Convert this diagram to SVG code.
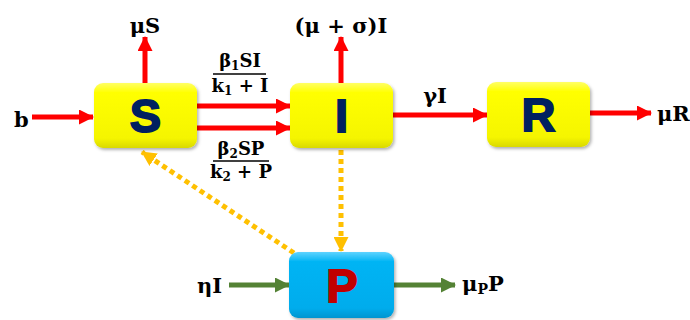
<svg xmlns="http://www.w3.org/2000/svg" width="690" height="320" viewBox="0 0 690 320">
<style>
.lbl{font-family:"DejaVu Serif","Liberation Serif",serif;font-weight:bold;fill:#000;}
.big{font-size:21px;}
.frac{font-size:18px;}
.sub{font-size:12px;}
.subb{font-size:14px;}
.let{font-family:"Liberation Sans",Arial,sans-serif;font-weight:bold;font-size:47px;text-anchor:middle;stroke-width:1.8;}
.red{stroke:#ff0000;stroke-width:5;fill:none;}
.grn{stroke:#548235;stroke-width:5;fill:none;}
.dot{stroke:#ffc000;stroke-width:5;fill:none;stroke-dasharray:5 4;}
</style>
<defs>
<linearGradient id="gy" x1="0" y1="0" x2="0" y2="1">
<stop offset="0" stop-color="#ffff66"/>
<stop offset="0.15" stop-color="#ffff00"/>
<stop offset="0.85" stop-color="#f5f500"/>
<stop offset="1" stop-color="#d9d900"/>
</linearGradient>
<linearGradient id="gb" x1="0" y1="0" x2="0" y2="1">
<stop offset="0" stop-color="#5fd3ff"/>
<stop offset="0.15" stop-color="#00b4f4"/>
<stop offset="0.85" stop-color="#00acec"/>
<stop offset="1" stop-color="#0095d0"/>
</linearGradient>
<filter id="sh" x="-10%" y="-10%" width="125%" height="130%">
<feDropShadow dx="1.5" dy="2" stdDeviation="1.5" flood-color="#000" flood-opacity="0.3"/>
</filter>
<marker id="ar" markerUnits="userSpaceOnUse" markerWidth="15" markerHeight="15" refX="14" refY="7.5" orient="auto"><path d="M0,0 L15,7.5 L0,15 z" fill="#ff0000"/></marker>
<marker id="ag" markerUnits="userSpaceOnUse" markerWidth="15" markerHeight="15" refX="14" refY="7.5" orient="auto"><path d="M0,0 L15,7.5 L0,15 z" fill="#548235"/></marker>
<marker id="ao" markerUnits="userSpaceOnUse" markerWidth="15" markerHeight="15" refX="14" refY="7.5" orient="auto"><path d="M0,0 L15,7.5 L0,15 z" fill="#ffc000"/></marker>
</defs>

<g id="connectors">
<line class="red" x1="32" y1="117" x2="93" y2="117" marker-end="url(#ar)"/>
<line class="red" x1="145" y1="83" x2="145" y2="37" marker-end="url(#ar)"/>
<line class="red" x1="197" y1="106" x2="290" y2="106" marker-end="url(#ar)"/>
<line class="red" x1="197" y1="128" x2="290" y2="128" marker-end="url(#ar)"/>
<line class="red" x1="341" y1="83" x2="341" y2="37" marker-end="url(#ar)"/>
<line class="red" x1="393" y1="115" x2="487" y2="115" marker-end="url(#ar)"/>
<line class="red" x1="590" y1="113" x2="651" y2="113" marker-end="url(#ar)"/>
<line class="dot" x1="341" y1="150" x2="341" y2="251" marker-end="url(#ao)"/>
<line class="dot" x1="294" y1="253" x2="142" y2="152" marker-end="url(#ao)"/>
<line class="grn" x1="229" y1="285" x2="289" y2="285" marker-end="url(#ag)"/>
<line class="grn" x1="394" y1="285" x2="455" y2="285" marker-end="url(#ag)"/>
</g>

<g id="labels">
<text class="lbl big" x="14" y="127">b</text>
<text class="lbl big" x="145" y="33" text-anchor="middle">μS</text>
<text class="lbl big" x="341" y="33" text-anchor="middle">(μ + σ)I</text>
<text class="lbl frac" x="240" y="67" text-anchor="middle">β<tspan class="sub" dy="3">1</tspan><tspan dy="-3">SI</tspan></text>
<line x1="213" y1="74" x2="266" y2="74" stroke="#000" stroke-width="1.5"/>
<text class="lbl frac" x="240" y="92" text-anchor="middle">k<tspan class="sub" dy="3">1</tspan><tspan dy="-3"> + I</tspan></text>
<text class="lbl frac" x="241" y="155" text-anchor="middle">β<tspan class="sub" dy="3">2</tspan><tspan dy="-3">SP</tspan></text>
<line x1="213" y1="161" x2="269" y2="161" stroke="#000" stroke-width="1.5"/>
<text class="lbl frac" x="241" y="178" text-anchor="middle">k<tspan class="sub" dy="3">2</tspan><tspan dy="-3"> + P</tspan></text>
<text class="lbl big" x="435" y="103" text-anchor="middle">γI</text>
<text class="lbl big" x="657" y="121">μR</text>
<text class="lbl big" x="197" y="293">ηI</text>
<text class="lbl big" x="462" y="291">μ<tspan class="subb" dy="3">P</tspan><tspan dy="-3">P</tspan></text>
</g>

<g id="S">
<rect x="94" y="83" width="103" height="65" rx="9" fill="url(#gy)" filter="url(#sh)"/>
<text class="let" x="145.5" y="132" fill="#002060" stroke="#002060">S</text>
</g>
<g id="I">
<rect x="290" y="83" width="103" height="65" rx="9" fill="url(#gy)" filter="url(#sh)"/>
<text class="let" x="341.5" y="132" fill="#002060" stroke="#002060">I</text>
</g>
<g id="R">
<rect x="487" y="82" width="103" height="65" rx="9" fill="url(#gy)" filter="url(#sh)"/>
<text class="let" x="538.5" y="131" fill="#002060" stroke="#002060">R</text>
</g>
<g id="P">
<rect x="289" y="252" width="105" height="66" rx="9" fill="url(#gb)" filter="url(#sh)"/>
<text class="let" x="342" y="302" fill="#c00000" stroke="#c00000">P</text>
</g>
</svg>
